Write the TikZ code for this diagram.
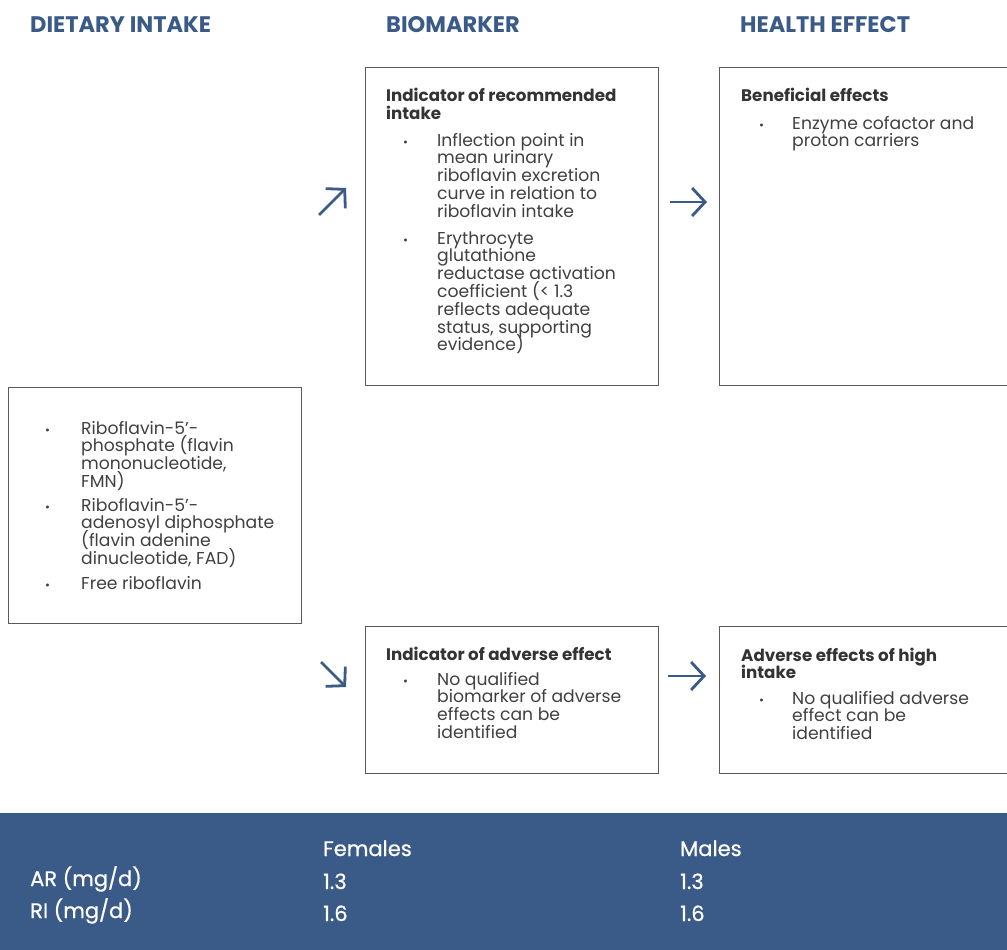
\documentclass[tikz,border=0pt]{standalone}
\usepackage{fontspec}
\setmainfont{Poppins}
\newfontfamily\popmed{Poppins}[BoldFont={Poppins},BoldFeatures={FakeBold=0.7}]
\usetikzlibrary{arrows.meta}
\definecolor{efsablue}{HTML}{3A5A87}
\definecolor{boxgray}{HTML}{5A5A5A}
\definecolor{txtgray}{HTML}{404040}
\definecolor{lblgray}{HTML}{333333}
\def\mlbr{\egroup\hbox\bgroup}
\newcommand{\ml}[1]{\vtop{\lineskiplimit=-100pt\lineskip=0pt\let\\\mlbr\hbox\bgroup#1\egroup}}
\begin{document}
\begin{tikzpicture}[x=1pt,y=-1pt,
  box/.style={draw=boxgray,line width=1.3pt,anchor=north west,inner sep=0pt},
  head/.style={anchor=base west,inner sep=0pt,text=efsablue,font=\fontsize{22.5}{24}\selectfont\bfseries},
  lbl/.style={anchor=base west,inner sep=0pt,text=lblgray,font=\fontsize{16.7}{17.5}\selectfont\bfseries},
  body/.style={anchor=base west,inner sep=0pt,text=txtgray,font=\fontsize{17.2}{17.8}\selectfont},
  bul/.style={anchor=base west,inner sep=0pt,text=txtgray,font=\fontsize{12}{12}\selectfont},
  arr/.style={draw=efsablue,line width=2.8pt,-{Straight Barb[length=13pt,width=28pt]}},
  tbl/.style={anchor=base west,inner sep=0pt,text=white,font=\fontsize{21}{22}\popmed\bfseries}]
\useasboundingbox (0,0) rectangle (1007,950);
\fill[white] (0,0) rectangle (1007,950);

% headings
\node[head] (h1) at (30,33) {DIETARY INTAKE};
\node[head] (h2) at (386,33) {BIOMARKER};
\node[head] (h3) at (740,33) {HEALTH EFFECT};

% boxes
\node[box,minimum width=293pt,minimum height=318pt] (bio1) at (365,67) {};
\node[box,minimum width=291pt,minimum height=318pt] (hea1) at (719,67) {};
\node[box,minimum width=293pt,minimum height=236pt] (diet) at (8,387) {};
\node[box,minimum width=293pt,minimum height=147pt] (bio2) at (365,626) {};
\node[box,minimum width=291pt,minimum height=147pt] (hea2) at (719,626) {};

% biomarker top
\node[lbl] (bio1l) at (386,102) {\ml{Indicator of recommended\\intake}};
\node[bul] (bio1b1) at (403,146) {•};
\node[body] (bio1t1) at (437,146) {\ml{Inflection point in\\mean urinary\\riboflavin excretion\\curve in relation to\\riboflavin intake}};
\node[bul] (bio1b2) at (403,244) {•};
\node[body] (bio1t2) at (437,244) {\ml{Erythrocyte\\glutathione\\reductase activation\\coefficient (< 1.3\\reflects adequate\\status, supporting\\evidence)}};

% health top
\node[lbl] (hea1l) at (741,102) {Beneficial effects};
\node[bul] (hea1b1) at (759,129) {•};
\node[body] (hea1t1) at (792,129) {\ml{Enzyme cofactor and\\proton carriers}};

% diet
\node[bul] (dietb1) at (45,434) {•};
\node[body] (diett1) at (81,434) {\ml{Riboflavin-5’-\\phosphate (flavin\\mononucleotide,\\FMN)}};
\node[bul] (dietb2) at (45,511) {•};
\node[body] (diett2) at (81,511) {\ml{Riboflavin-5’-\\adenosyl diphosphate\\(flavin adenine\\dinucleotide, FAD)}};
\node[bul] (dietb3) at (45,589) {•};
\node[body] (diett3) at (81,589) {Free riboflavin};

% biomarker bottom
\node[lbl] (bio2l) at (386,660) {Indicator of adverse effect};
\node[bul] (bio2b1) at (403,685) {•};
\node[body] (bio2t1) at (437,685) {\ml{No qualified\\biomarker of adverse\\effects can be\\identified}};

% health bottom
\node[lbl] (hea2l) at (741,661) {\ml{Adverse effects of high\\intake}};
\node[bul] (hea2b1) at (759,704) {•};
\node[body] (hea2t1) at (792,704) {\ml{No qualified adverse\\effect can be\\identified}};

% arrows
\coordinate (a1s) at (319,215);
\coordinate (a1e) at (346,188);
\coordinate (a2s) at (321,662);
\coordinate (a2e) at (346,687);
\coordinate (a3s) at (670,202);
\coordinate (a3e) at (707,202);
\coordinate (a4s) at (668,676);
\coordinate (a4e) at (706,676);
\draw[arr] (a1s) -- (a1e);
\draw[arr] (a2s) -- (a2e);
\draw[arr] (a3s) -- (a3e);
\draw[arr] (a4s) -- (a4e);

% table band
\node[fill=efsablue,draw=none,anchor=north west,inner sep=0pt,minimum width=1007pt,minimum height=137pt] (band) at (0,813) {};
\node[tbl] (tf) at (323,856) {Females};
\node[tbl] (tm) at (680,856) {Males};
\node[tbl] (tar) at (30,886) {AR (mg/d)};
\node[tbl] (tar1) at (323,889) {1.3};
\node[tbl] (tar2) at (680,889) {1.3};
\node[tbl] (tri) at (30,918) {RI (mg/d)};
\node[tbl] (tri1) at (323,921) {1.6};
\node[tbl] (tri2) at (680,921) {1.6};
\end{tikzpicture}
\end{document}
